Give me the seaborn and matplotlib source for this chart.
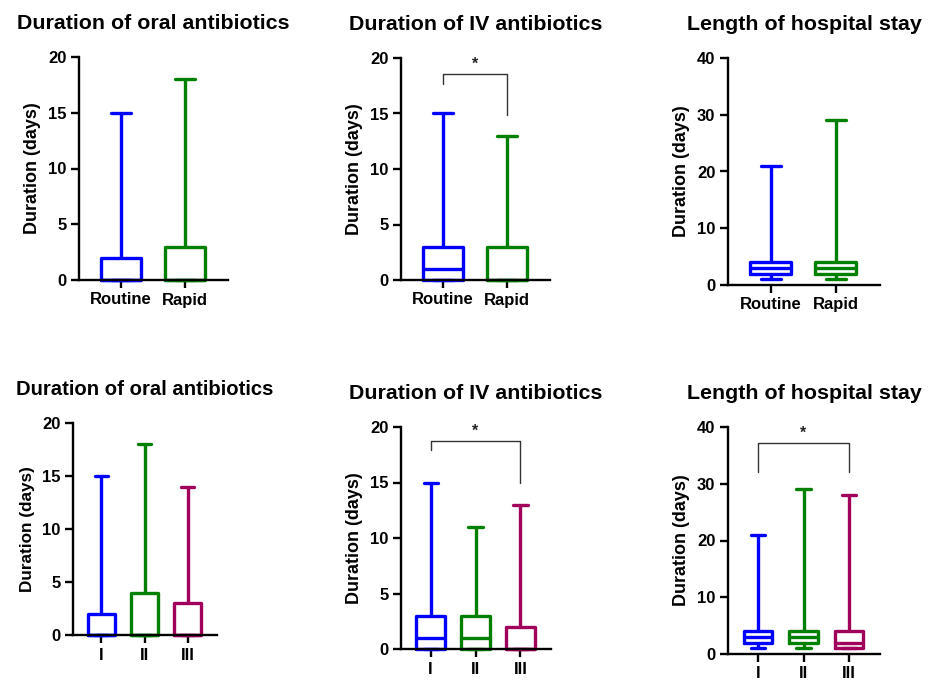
import numpy as np
import pandas as pd
import matplotlib
matplotlib.use("Agg")
import matplotlib.pyplot as plt
import seaborn as sns

# ---------------- data (five-number summaries) ----------------
groups2 = ["Routine", "Rapid"]
groups3 = ["I", "II", "III"]

# top row: Routine vs Rapid
oral2_min = [0, 0];  oral2_q1 = [0, 0];  oral2_med = [0, 0];  oral2_q3 = [2, 3];  oral2_max = [15, 18]
iv2_min = [0, 0];    iv2_q1 = [0, 0];    iv2_med = [1, 0];    iv2_q3 = [3, 3];    iv2_max = [15, 13]
los2_min = [1, 1];   los2_q1 = [2, 2];   los2_med = [3, 3];   los2_q3 = [4, 4];   los2_max = [21, 29]

# bottom row: groups I, II, III
oral3_min = [0, 0, 0]; oral3_q1 = [0, 0, 0]; oral3_med = [0, 0, 0]; oral3_q3 = [2, 4, 3]; oral3_max = [15, 18, 14]
iv3_min = [0, 0, 0];   iv3_q1 = [0, 0, 0];   iv3_med = [1, 1, 0];   iv3_q3 = [3, 3, 2];   iv3_max = [15, 11, 13]
los3_min = [1, 1, 1];  los3_q1 = [2, 2, 1];  los3_med = [3, 3, 2];  los3_q3 = [4, 4, 4];  los3_max = [21, 29, 28]

titles = ["Duration of oral antibiotics", "Duration of IV antibiotics", "Length of hospital stay"]
ylabel = "Duration (days)"
colors = ["#0000FF", "#008000", "#A0005A"]

# significance brackets: (panel index, left group, right group, top y, left leg end, right leg end)
brackets = [
    (1, 0, 1, 18.6, 17.7, 14.9),
    (4, 0, 2, 18.7, 17.9, 15.0),
    (5, 0, 2, 37.2, 32.0, 32.0),
]

panels = [
    (groups2, oral2_min, oral2_q1, oral2_med, oral2_q3, oral2_max, 20, 5),
    (groups2, iv2_min, iv2_q1, iv2_med, iv2_q3, iv2_max, 20, 5),
    (groups2, los2_min, los2_q1, los2_med, los2_q3, los2_max, 40, 10),
    (groups3, oral3_min, oral3_q1, oral3_med, oral3_q3, oral3_max, 20, 5),
    (groups3, iv3_min, iv3_q1, iv3_med, iv3_q3, iv3_max, 20, 5),
    (groups3, los3_min, los3_q1, los3_med, los3_q3, los3_max, 40, 10),
]

# axes placement in pixels (left, right, top, bottom) and text sizes
W, H = 929, 681
boxes_px = [
    (79, 228, 57, 280),
    (401, 550, 58, 280),
    (728, 880, 58, 285),
    (73, 217, 423, 635),
    (401, 551, 427, 649),
    (728, 880, 427, 654),
]
title_sizes = [15.4, 15.4, 15.4, 14.6, 15.4, 15.4]
ylabel_sizes = [13, 13, 13, 12.3, 13, 13]

sns.set_theme(style="ticks")
plt.rcParams["font.family"] = ["Liberation Sans", "DejaVu Sans"]
plt.rcParams["font.weight"] = "bold"
for key in ("text.color", "axes.labelcolor", "xtick.color", "ytick.color", "axes.edgecolor"):
    plt.rcParams[key] = "black"

fig = plt.figure(figsize=(W / 100, H / 100), dpi=100)

for k, (grp, mn, q1, md, q3, mx, ytop, ystep) in enumerate(panels):
    l, r, t, b = boxes_px[k]
    ax = fig.add_axes([l / W, 1 - b / H, (r - l) / W, (b - t) / H])
    rows = []
    for i, g in enumerate(grp):
        for v in (mn[i], q1[i], md[i], q3[i], mx[i]):
            rows.append({"group": g, "value": v})
    df = pd.DataFrame(rows)
    sns.boxplot(data=df, x="group", y="value", hue="group", order=grp, hue_order=grp,
                palette=colors[:len(grp)], fill=False, whis=(0, 100), width=0.63,
                linewidth=2.4, showfliers=False, legend=False, ax=ax)
    for art in ax.patches + ax.lines:
        art.set_clip_on(False)
    n = len(grp)
    ax.set_xlim(-0.66, n - 1 + 0.68)
    ax.set_ylim(0, ytop)
    ax.set_yticks(np.arange(0, ytop + 1, ystep))
    ax.set_xlabel("")
    ax.set_ylabel(ylabel, fontsize=ylabel_sizes[k], fontweight="bold", labelpad=5, color="black")
    ax.set_title(titles[k % 3], fontsize=title_sizes[k], fontweight="bold", pad=20, color="black")
    sns.despine(ax=ax)
    for s in ("left", "bottom"):
        ax.spines[s].set_linewidth(1.7)
        ax.spines[s].set_color("black")
    ax.tick_params(axis="both", width=1.7, length=6, color="black", labelcolor="black",
                   labelsize=12, pad=3)
    for lab in ax.get_xticklabels() + ax.get_yticklabels():
        lab.set_fontweight("bold")

    for (pk, a, c, ytop_b, yl, yr) in brackets:
        if pk == k:
            ax.plot([a, a, c, c], [yl, ytop_b, ytop_b, yr], color="#333333", lw=1.0, clip_on=False)
            ax.text((a + c) / 2, ytop_b + ytop * 0.01, "*", ha="center", va="bottom",
                    fontsize=11.5, color="#222222")

fig.savefig("out.png", dpi=100, facecolor="white")
